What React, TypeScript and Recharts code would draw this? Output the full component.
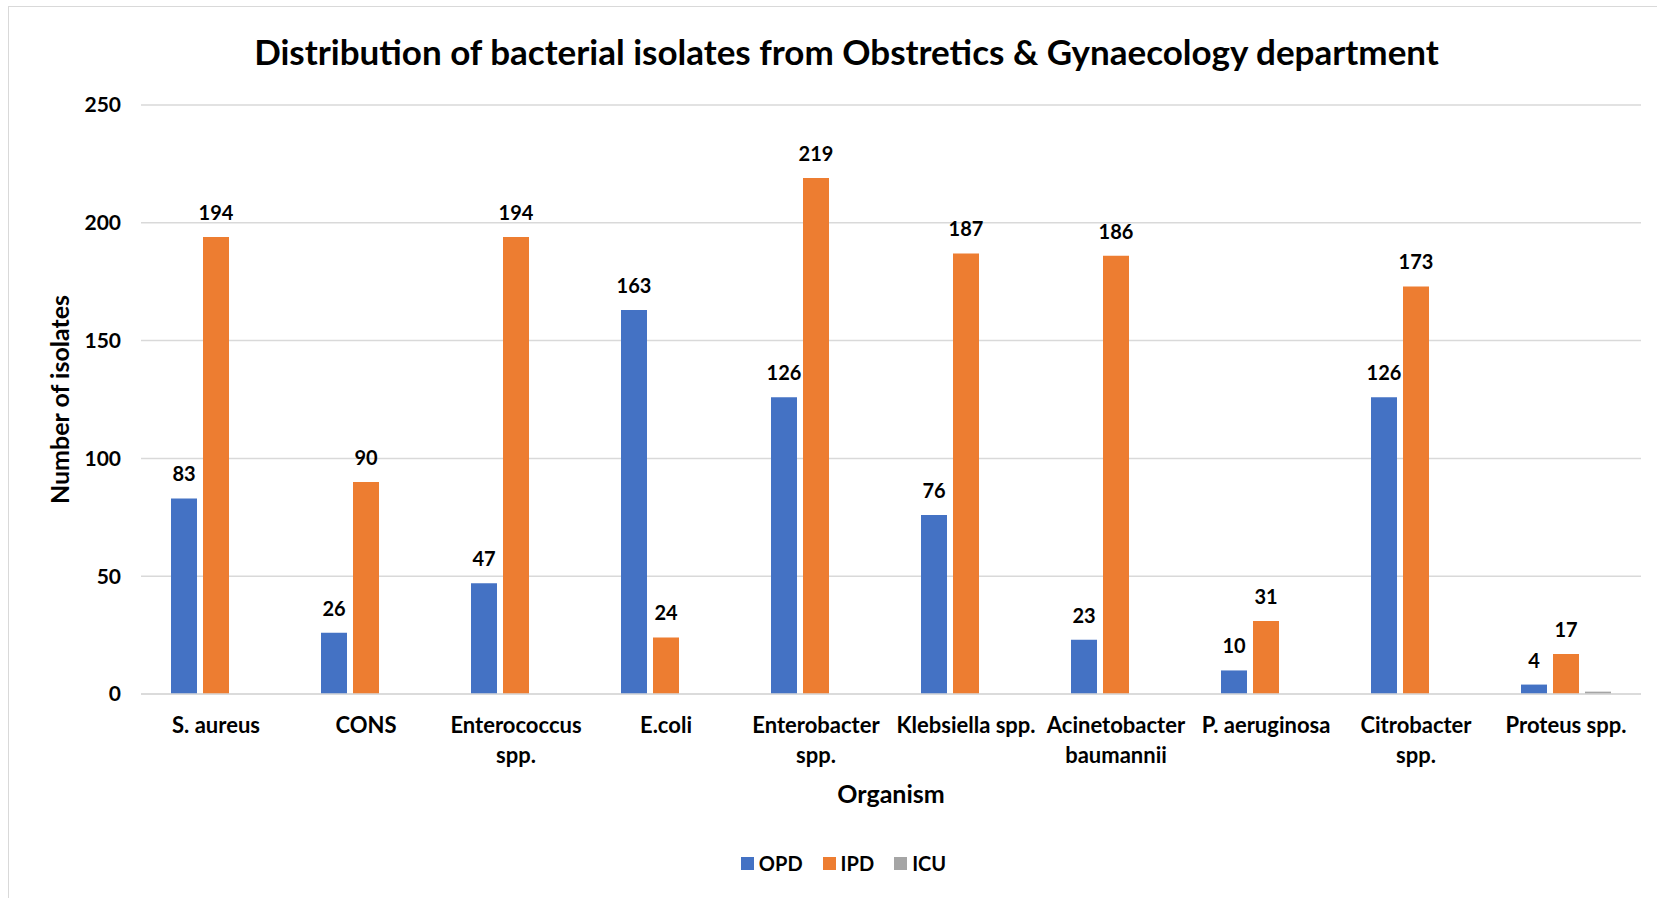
import React from "react";
import { BarChart, Bar, XAxis, YAxis, CartesianGrid, Legend, LabelList } from "recharts";

const organisms = [
  "S. aureus",
  "CONS",
  "Enterococcus\nspp.",
  "E.coli",
  "Enterobacter\nspp.",
  "Klebsiella spp.",
  "Acinetobacter\nbaumannii",
  "P. aeruginosa",
  "Citrobacter\nspp.",
  "Proteus spp.",
];
const opd = [83, 26, 47, 163, 126, 76, 23, 10, 126, 4];
const ipd = [194, 90, 194, 24, 219, 187, 186, 31, 173, 17];
const icu = [0, 0, 0, 0, 0, 0, 0, 0, 0, 1];
const yTicks = [0, 50, 100, 150, 200, 250];

const data = organisms.map((name, i) => ({
  name,
  OPD: opd[i],
  IPD: ipd[i],
  ICU: icu[i],
}));

const FONT = "Lato, 'Open Sans', sans-serif";

const series = [
  { key: "OPD", color: "#4472C4" },
  { key: "IPD", color: "#ED7D31" },
  { key: "ICU", color: "#A5A5A5" },
];

const CategoryTick = (props: any) => {
  const { x, y, payload } = props;
  const lines = String(payload.value).split("\n");
  return (
    <text x={x} y={y} textAnchor="middle" fontFamily={FONT} fontSize={22} fontWeight={700} fill="#000">
      {lines.map((l, i) => (
        <tspan key={i} x={x} dy={i === 0 ? 39 : 30}>
          {l}
        </tspan>
      ))}
    </text>
  );
};

const LegendContent = () => (
  <div style={{ display: "flex", justifyContent: "center", alignItems: "center", gap: 20, fontFamily: FONT, fontSize: 20, fontWeight: 700 }}>
    {series.map((s) => (
      <div key={s.key} style={{ display: "flex", alignItems: "center" }}>
        <span style={{ width: 13, height: 13, background: s.color, display: "inline-block", marginRight: 5 }} />
        <span style={{ color: "#000" }}>{s.key}</span>
      </div>
    ))}
  </div>
);

export default function App() {
  return (
    <div style={{ position: "absolute", left: 0, top: 0, width: 1657, height: 898, overflow: "hidden", background: "#fff" }}>
      <div style={{ position: "absolute", left: 8, top: 6, width: 1700, height: 950, border: "1px solid #d9d9d9" }} />
      <div
        style={{
          position: "absolute",
          left: 18,
          top: 30,
          width: 1657,
          textAlign: "center",
          fontFamily: FONT,
          fontSize: 35,
          fontWeight: 700,
          color: "#000",
        }}
      >
        Distribution of bacterial isolates from Obstretics &amp; Gynaecology department
      </div>
      <div style={{ position: "absolute", left: 0, top: 0 }}>
        <BarChart
          width={1657}
          height={898}
          data={data}
          margin={{ top: 105, right: 16, bottom: 124, left: 61 }}
          barSize={26}
          barGap={6}
        >
          <CartesianGrid vertical={false} stroke="#d9d9d9" strokeWidth={1.5} />
          <XAxis
            dataKey="name"
            height={80}
            axisLine={{ stroke: "#d9d9d9", strokeWidth: 1.5 }}
            tickLine={false}
            tickSize={0}
            tickMargin={0}
            interval={0}
            tick={<CategoryTick />}
            label={{ value: "Organism", position: "bottom", offset: 11, fontFamily: FONT, fontSize: 25, fontWeight: 700, fill: "#000" }}
          />
          <YAxis
            width={80}
            domain={[0, 250]}
            ticks={yTicks}
            axisLine={false}
            tickLine={false}
            tickSize={0}
            tickMargin={20}
            tick={{ fontFamily: FONT, fontSize: 21, fontWeight: 700, fill: "#000" }}
            label={{
              value: "Number of isolates",
              angle: -90,
              position: "insideLeft",
              dx: -6,
              style: { textAnchor: "middle" },
              fontFamily: FONT,
              fontSize: 25,
              fontWeight: 700,
              fill: "#000",
            }}
          />
          <Legend
            verticalAlign="middle"
            align="center"
            layout="horizontal"
            content={<LegendContent />}
            wrapperStyle={{ top: 851, left: 15, width: 1657 }}
          />
          <Bar dataKey="OPD" fill="#4472C4" isAnimationActive={false}>
            <LabelList dataKey="OPD" position="top" offset={17} fontFamily={FONT} fontSize={20} fontWeight={700} fill="#000" />
          </Bar>
          <Bar dataKey="IPD" fill="#ED7D31" isAnimationActive={false}>
            <LabelList dataKey="IPD" position="top" offset={17} fontFamily={FONT} fontSize={20} fontWeight={700} fill="#000" />
          </Bar>
          <Bar dataKey="ICU" fill="#A5A5A5" isAnimationActive={false} />
        </BarChart>
      </div>
    </div>
  );
}
